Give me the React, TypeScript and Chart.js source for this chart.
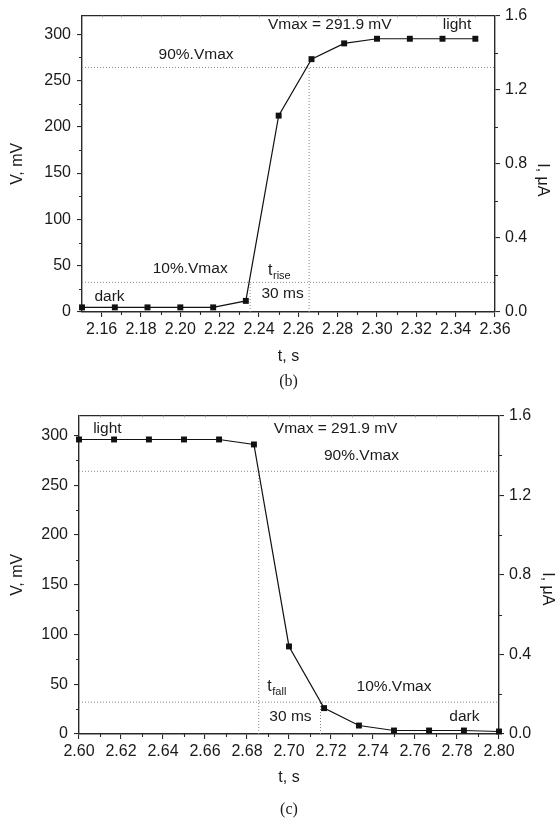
import React, { useEffect, useRef } from 'react';
import { Chart, registerables } from 'chart.js';

Chart.register(...registerables);

// ---------- Panel (b): rise ----------
const timeRise = [2.15, 2.1667, 2.1833, 2.2, 2.2167, 2.2333, 2.25, 2.2667, 2.2833, 2.3, 2.3167, 2.3333, 2.35];
const voltRise = [5, 5, 5, 5, 5, 12, 212, 273, 290, 295, 295, 295, 295];
const xTicksRise = [2.16, 2.18, 2.2, 2.22, 2.24, 2.26, 2.28, 2.3, 2.32, 2.34, 2.36];
const levelsRise = [264, 32]; // 90% and 10% of Vmax
const marksRise = [
  { x: 2.2355, level: 32 },
  { x: 2.2655, level: 264 },
];

// ---------- Panel (c): fall ----------
const timeFall = [2.6, 2.6167, 2.6333, 2.65, 2.6667, 2.6833, 2.7, 2.7167, 2.7333, 2.75, 2.7667, 2.7833, 2.8];
const voltFall = [296, 296, 296, 296, 296, 291, 88, 26, 8.5, 3.5, 3.5, 3.5, 2.5];
const xTicksFall = [2.6, 2.62, 2.64, 2.66, 2.68, 2.7, 2.72, 2.74, 2.76, 2.78, 2.8];
const levelsFall = [264, 32];
const marksFall = [
  { x: 2.6856, level: 264 },
  { x: 2.715, level: 32 },
];

// ---------- shared axes ----------
const vTicks = [0, 50, 100, 150, 200, 250, 300];
const iTicks = [0, 0.4, 0.8, 1.2, 1.6];

// ---------- text annotations ----------
const notesRise = [
  { text: 'Vmax = 291.9 mV', x: 2.276, y: 310 },
  { text: 'light', x: 2.3407, y: 310 },
  { text: '90%.Vmax', x: 2.208, y: 278 },
  { text: '10%.Vmax', x: 2.205, y: 47 },
  { text: '30 ms', x: 2.252, y: 20 },
  { text: 'dark', x: 2.164, y: 17 },
];
const subRise = { main: 't', sub: 'rise', x: 2.2446, y: 45 };

const notesFall = [
  { text: 'light', x: 2.6135, y: 307 },
  { text: 'Vmax = 291.9 mV', x: 2.7222, y: 307 },
  { text: '90%.Vmax', x: 2.7345, y: 280 },
  { text: '30 ms', x: 2.7007, y: 17 },
  { text: '10%.Vmax', x: 2.75, y: 48 },
  { text: 'dark', x: 2.7835, y: 17 },
];
const subFall = { main: 't', sub: 'fall', x: 2.6897, y: 48 };

const FONT = '"Liberation Sans", Arial, sans-serif';
const SERIF = '"Liberation Serif", "Times New Roman", serif';
const AXIS = '#2a2a2a';
const TEXT = '#1a1a1a';
const DOT = '#888888';

type Panel = {
  id: string;
  caption: string;
  time: number[];
  volt: number[];
  xMin: number;
  xMax: number;
  xTicks: number[];
  levels: number[];
  marks: { x: number; level: number }[];
  notes: { text: string; x: number; y: number }[];
  sub: { main: string; sub: string; x: number; y: number };
  height: number;
  leftW: number;
  rightW: number;
  top: number;
  bottomH: number;
  rightTitleDx: number;
  rightTitleDy: number;
  tsDy: number;
  capDy: number;
};

const panels: Panel[] = [
  {
    id: 'b', caption: '(b)', time: timeRise, volt: voltRise, xMin: 2.15, xMax: 2.36,
    xTicks: xTicksRise, levels: levelsRise, marks: marksRise, notes: notesRise, sub: subRise,
    height: 400, leftW: 82, rightW: 65, top: 13, bottomH: 88,
    rightTitleDx: 47, rightTitleDy: 16, tsDy: 45, capDy: 70,
  },
  {
    id: 'c', caption: '(c)', time: timeFall, volt: voltFall, xMin: 2.6, xMax: 2.8,
    xTicks: xTicksFall, levels: levelsFall, marks: marksFall, notes: notesFall, sub: subFall,
    height: 429, leftW: 79, rightW: 61, top: 12, bottomH: 95,
    rightTitleDx: 48, rightTitleDy: 14, tsDy: 44, capDy: 76,
  },
];

function minorOf(ticks: number[], min: number, max: number) {
  const out: number[] = [];
  for (let i = 0; i < ticks.length - 1; i++) out.push((ticks[i] + ticks[i + 1]) / 2);
  const step = ticks[1] - ticks[0];
  const before = ticks[0] - step / 2;
  if (before > min + 1e-9) out.unshift(before);
  const after = ticks[ticks.length - 1] + step / 2;
  if (after < max - 1e-9) out.push(after);
  return out;
}

function buildConfig(p: Panel): any {
  const dotted = (data: { x: number; y: number }[]) => ({
    data,
    showLine: true,
    borderColor: DOT,
    borderWidth: 1,
    borderDash: [1, 2],
    pointRadius: 0,
    fill: false,
  });

  const datasets: any[] = [
    {
      data: p.time.map((t, i) => ({ x: t, y: p.volt[i] })),
      showLine: true,
      borderColor: '#111',
      borderWidth: 1.2,
      pointStyle: 'rect',
      pointRadius: 4.2,
      pointBackgroundColor: '#111',
      pointBorderColor: '#111',
      pointBorderWidth: 0,
      clip: false,
      fill: false,
    },
    ...p.levels.map((lv) => dotted([{ x: p.xMin, y: lv }, { x: p.xMax, y: lv }])),
    ...p.marks.map((m) => dotted([{ x: m.x, y: 0 }, { x: m.x, y: m.level }])),
  ];

  const tickFont = { family: FONT, size: 16 };
  const grid = {
    display: true,
    drawOnChartArea: false,
    drawTicks: true,
    tickLength: 5,
    color: AXIS,
    lineWidth: 1.1,
  };
  const border = { display: true, color: AXIS, width: 1.4 };

  const decor = {
    id: 'decor_' + p.id,
    afterDatasetsDraw(chart: any) {
      const { ctx, chartArea: a, scales } = chart;
      const sx = scales.x, sy = scales.y, sy2 = scales.y2;
      ctx.save();
      // top frame line
      ctx.strokeStyle = AXIS;
      ctx.lineWidth = 1.4;
      ctx.beginPath();
      ctx.moveTo(a.left, a.top);
      ctx.lineTo(a.right, a.top);
      ctx.stroke();

      // minor ticks
      ctx.lineWidth = 1.1;
      const xMinor = minorOf(p.xTicks, p.xMin, p.xMax);
      ctx.beginPath();
      xMinor.forEach((v) => {
        const px = Math.round(sx.getPixelForValue(v)) + 0.5;
        ctx.moveTo(px, a.bottom);
        ctx.lineTo(px, a.bottom + 3);
      });
      minorOf(vTicks, 0, 320).forEach((v) => {
        const py = Math.round(sy.getPixelForValue(v)) + 0.5;
        ctx.moveTo(a.left - 3, py);
        ctx.lineTo(a.left, py);
      });
      minorOf(iTicks, 0, 1.6).forEach((v) => {
        const py = Math.round(sy2.getPixelForValue(v)) + 0.5;
        ctx.moveTo(a.right, py);
        ctx.lineTo(a.right + 3, py);
      });
      ctx.stroke();

      // tiny inward ticks on the top frame
      ctx.strokeStyle = '#aaaaaa';
      ctx.lineWidth = 1;
      ctx.beginPath();
      [...p.xTicks, ...xMinor].forEach((v) => {
        const px = Math.round(sx.getPixelForValue(v)) + 0.5;
        ctx.moveTo(px, a.top);
        ctx.lineTo(px, a.top + 2);
      });
      ctx.stroke();

      // annotations
      ctx.fillStyle = TEXT;
      ctx.font = `15.5px ${FONT}`;
      ctx.textAlign = 'center';
      ctx.textBaseline = 'middle';
      p.notes.forEach((n) => {
        ctx.fillText(n.text, sx.getPixelForValue(n.x), sy.getPixelForValue(n.y));
      });
      // t with subscript
      const tx = sx.getPixelForValue(p.sub.x);
      const ty = sy.getPixelForValue(p.sub.y);
      ctx.textAlign = 'left';
      ctx.font = `16px ${FONT}`;
      ctx.fillText(p.sub.main, tx, ty);
      const tw = ctx.measureText(p.sub.main).width;
      ctx.font = `11px ${FONT}`;
      ctx.fillText(p.sub.sub, tx + tw + 0.5, ty + 6);

      // axis titles
      ctx.font = `16px ${FONT}`;
      ctx.textAlign = 'center';
      const cy = (a.top + a.bottom) / 2;
      ctx.save();
      ctx.translate(18, cy);
      ctx.rotate(-Math.PI / 2);
      ctx.fillText('V, mV', 0, 0);
      ctx.restore();
      ctx.save();
      ctx.translate(a.right + p.rightTitleDx, cy + p.rightTitleDy);
      ctx.rotate(Math.PI / 2);
      ctx.fillText('I, \u03bcA', 0, 0);
      ctx.restore();
      const cx = (a.left + a.right) / 2;
      ctx.fillText('t, s', cx, a.bottom + p.tsDy);
      ctx.font = `16px ${SERIF}`;
      ctx.fillText(p.caption, cx, a.bottom + p.capDy);
      ctx.restore();
    },
  };

  return {
    type: 'scatter',
    data: { datasets },
    options: {
      animation: false,
      responsive: false,
      maintainAspectRatio: false,
      events: [],
      layout: { padding: { top: p.top, left: 0, right: 0, bottom: 0 } },
      plugins: { legend: { display: false }, tooltip: { enabled: false }, title: { display: false } },
      scales: {
        x: {
          type: 'linear',
          position: 'bottom',
          min: p.xMin,
          max: p.xMax,
          afterBuildTicks: (s: any) => { s.ticks = p.xTicks.map((v) => ({ value: v })); },
          afterFit: (s: any) => { s.height = p.bottomH; },
          ticks: {
            font: tickFont, color: TEXT, padding: 3, maxRotation: 0, autoSkip: false,
            callback: (v: any) => Number(v).toFixed(2),
          },
          grid, border,
        },
        y: {
          type: 'linear',
          position: 'left',
          min: 0,
          max: 320,
          afterBuildTicks: (s: any) => { s.ticks = vTicks.map((v) => ({ value: v })); },
          afterFit: (s: any) => { s.width = p.leftW; },
          ticks: { font: tickFont, color: TEXT, padding: 6, callback: (v: any) => String(v) },
          grid, border,
        },
        y2: {
          type: 'linear',
          position: 'right',
          min: 0,
          max: 1.6,
          afterBuildTicks: (s: any) => { s.ticks = iTicks.map((v) => ({ value: v })); },
          afterFit: (s: any) => { s.width = p.rightW; },
          ticks: { font: tickFont, color: TEXT, padding: 5, callback: (v: any) => Number(v).toFixed(1) },
          grid, border,
        },
      },
    },
    plugins: [decor],
  };
}

function PanelChart({ p, top }: { p: Panel; top: number }) {
  const ref = useRef<HTMLCanvasElement | null>(null);
  useEffect(() => {
    if (!ref.current) return;
    const chart = new Chart(ref.current, buildConfig(p));
    return () => chart.destroy();
  }, [p]);
  return (
    <canvas
      ref={ref}
      width={560}
      height={p.height}
      style={{ position: 'absolute', left: 0, top, width: 560, height: p.height, display: 'block' }}
    />
  );
}

export default function App() {
  return (
    <div style={{ position: 'absolute', left: 0, top: 0, width: 560, height: 829, background: '#fff' }}>
      <PanelChart p={panels[0]} top={0} />
      <PanelChart p={panels[1]} top={400} />
    </div>
  );
}
